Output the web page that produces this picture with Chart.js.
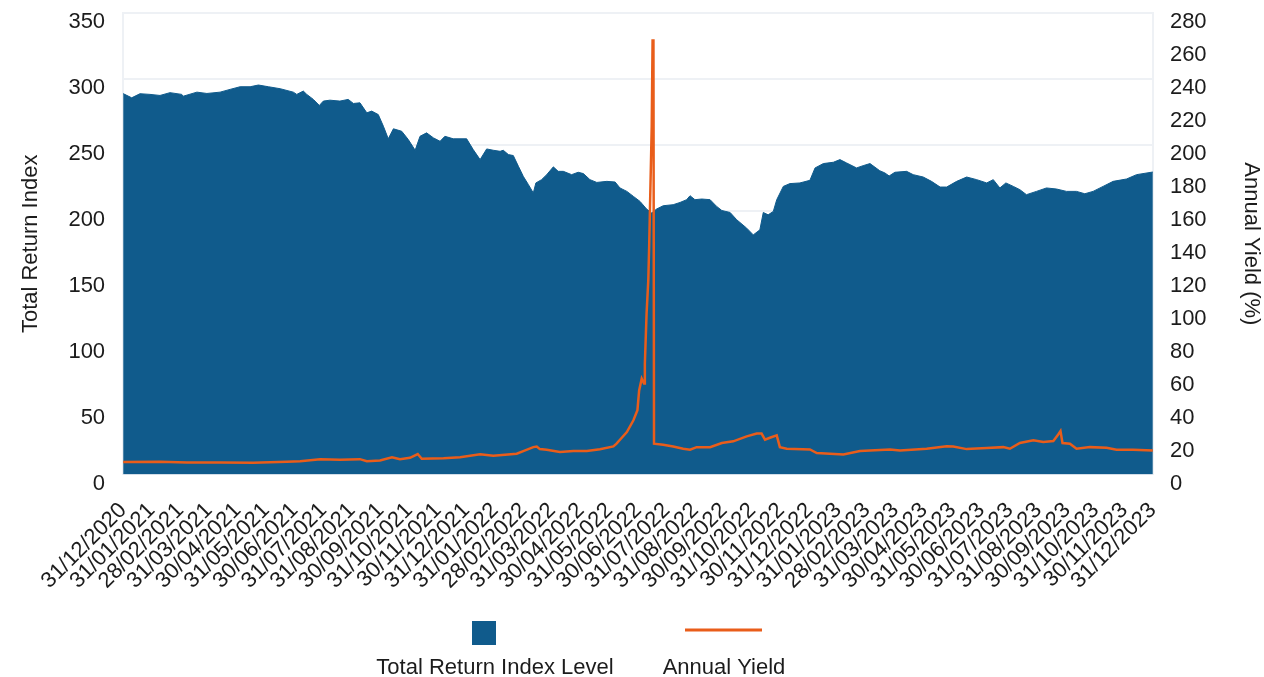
<!DOCTYPE html>
<html lang="en">

<head>
    <meta charset="UTF-8">
    <title>Total Return Index and Annual Yield</title>
    <script src="https://cdn.jsdelivr.net/npm/chart.js"></script>
    <style>
        body { margin: 0; background: #fff; }
        #wrap { width: 1264px; height: 677px; }
    </style>
</head>

<body>
    <div id="wrap">
        <canvas id="myChart"></canvas>
    </div>
</body>

<script>

    // month-end tick labels, one per month step on the x axis
    const monthLabels = [
        '31/12/2020', '31/01/2021', '28/02/2021', '31/03/2021', '30/04/2021', '31/05/2021',
        '30/06/2021', '31/07/2021', '31/08/2021', '30/09/2021', '31/10/2021', '30/11/2021',
        '31/12/2021', '31/01/2022', '28/02/2022', '31/03/2022', '30/04/2022', '31/05/2022',
        '30/06/2022', '31/07/2022', '31/08/2022', '30/09/2022', '31/10/2022', '30/11/2022',
        '31/12/2022', '31/01/2023', '28/02/2023', '31/03/2023', '30/04/2023', '31/05/2023',
        '30/06/2023', '31/07/2023', '31/08/2023', '30/09/2023', '31/10/2023', '30/11/2023',
        '31/12/2023'
    ]

    // positions in months after 31/12/2020
    const indexMonths = [
        0, 0.30, 0.59, 0.94, 1.29, 1.64, 2.05, 2.10, 2.58, 2.93, 3.39, 3.74, 4.09, 4.44, 4.73,
        5.08, 5.49, 5.95, 6.07, 6.30, 6.42, 6.65, 6.86, 7.00, 7.23, 7.58, 7.87, 8.05, 8.28, 8.52,
        8.69, 8.92, 9.10, 9.27, 9.45, 9.74, 9.97, 10.21, 10.38, 10.61, 10.85, 11.08, 11.25, 11.54,
        12.01, 12.24, 12.48, 12.71, 12.94, 13.18, 13.29, 13.47, 13.64, 13.82, 13.99, 14.17, 14.34,
        14.43, 14.63, 14.81, 15.04, 15.21, 15.39, 15.68, 15.91, 16.09, 16.32, 16.56, 16.91, 17.20,
        17.37, 17.61, 17.84, 18.07, 18.30, 18.48, 18.65, 18.88, 19.23, 19.47, 19.70, 19.82, 19.99,
        20.23, 20.52, 20.75, 20.93, 21.22, 21.45, 21.80, 22.03, 22.26, 22.38, 22.55, 22.73, 22.85,
        23.08, 23.31, 23.66, 24.01, 24.19, 24.48, 24.83, 25.06, 25.29, 25.64, 25.87, 26.11, 26.45,
        26.63, 26.78, 26.98, 27.39, 27.62, 27.97, 28.26, 28.56, 28.79, 29.14, 29.49, 29.84, 30.19,
        30.42, 30.65, 30.86, 31.12, 31.35, 31.58, 31.93, 32.28, 32.63, 32.98, 33.33, 33.62, 33.91,
        34.26, 34.61, 35.08, 35.43, 36
    ]
    const indexLevel = [
        289, 285.8, 288.9, 288.4, 287.6, 289.7, 288.4, 287, 290.1, 289.1, 290.1, 292.2, 294.2, 294.2, 295.5,
        294.2, 292.7, 290.1, 288.4, 290.9, 288.4, 284.6, 280, 283.3, 284, 283.3, 284.6, 281.5, 282, 274.4,
        275.7, 273.1, 264.2, 254.7, 262.3, 260.4, 254.1, 246, 256.6, 259.2, 255.4, 252.8, 256.6, 254.7,
        254.7, 246.5, 238.9, 247, 246, 245.2, 246, 242.7, 242, 233.8, 226.2, 219.9, 213.6,
        221.2, 223.7, 227.5, 233.4, 230, 230, 227.5, 229.3, 228.3, 223.7, 221.6, 222.4, 221.9,
        217.4, 214.8, 211, 207.2, 201.4, 198.4, 201.4, 203.9, 204.7, 206.4, 208.5, 211.5, 208.5,
        209, 208.5, 203.4, 200.3, 198.8, 193.3, 186.9, 181.8, 185.6, 198.8, 197, 199.6, 208.5,
        218.6, 220.7, 221.2, 223.2, 232.6, 235.9, 236.9, 238.9, 236.4, 232.6, 234.3, 235.9, 230.5,
        228.8, 226.5, 229.3, 230, 227.5, 225.7, 222.4, 218.1, 218.1, 222.4, 225.7, 223.7, 221.2,
        223.7, 217.4, 221.2, 218.6, 216.1, 212.3, 214.8, 217.4, 216.6, 214.8, 214.8, 213, 214.8,
        218.6, 222.4, 224.2, 227.5, 229.5
    ]

    const yieldMonths = [
        0, 1.29, 2.23, 3.39, 4.55, 5.72, 6.19, 6.89, 7.58, 8.28, 8.52, 8.98, 9.40, 9.68, 10.03,
        10.30, 10.44, 11.20, 11.78, 12.48, 12.94, 13.76, 13.99, 14.34, 14.46, 14.57, 14.81, 15.27,
        15.74, 16.21, 16.67, 17.14, 17.25, 17.37, 17.61, 17.84, 17.98, 18.04, 18.13, 18.21, 18.24,
        18.30, 18.36, 18.39, 18.48, 18.51, 18.54, 18.56, 18.88, 19.23, 19.58, 19.82, 20.05, 20.52,
        20.93, 21.33, 21.80, 22.15, 22.32, 22.44, 22.61, 22.85, 22.96, 23.20, 24.01, 24.25, 25.18,
        25.76, 26.81, 27.16, 28.09, 28.79, 29.02, 29.49, 30.19, 30.77, 31.00, 31.35, 31.82, 32.17,
        32.52, 32.69, 32.77, 32.84, 33.10, 33.33, 33.80, 34.38, 34.73, 35.31, 36
    ]
    const annualYield = [
        7.5, 7.7, 7.3, 7.3, 7.1, 7.7, 8.1, 9.3, 8.9, 9.3, 8.1, 8.5, 10.5, 9.3, 10.1,
        12.4, 9.5, 9.9, 10.5, 12.2, 11.4, 12.6, 14.2, 16.6, 17, 15.4, 15, 13.6,
        14.2, 14.3, 15.3, 17, 18.7, 21.1, 25.7, 32.9, 39, 51, 58.2, 55.2, 67.4,
        97.8, 118, 138.4, 211.4, 263.5, 263.5, 18.7, 18.1, 17, 15.6, 15, 16.6, 16.6,
        19.1, 20.1, 23.1, 24.8, 24.8, 21.1, 22.3, 23.7, 16.6, 15.6, 15.2, 13, 12.2,
        14.2, 15.2, 14.6, 15.6, 17.2, 17, 15.4, 16, 16.6, 15.6, 19.1, 20.7, 19.7,
        20.3, 24.3, 26.4, 19.1, 18.7, 15.6, 16.6, 16.2, 15, 15, 14.6
    ]

    const BLUE = '#105b8c'
    const ORANGE = '#e95d1a'
    const GRID = '#eef1f5'
    const TEXT = '#1c1c1c'
    const FONT = "'Liberation Sans', Arial, Helvetica, sans-serif"

    // legend drawn under the axis: symbol on top, label underneath
    const bottomLegend = {
        id: 'bottomLegend',
        afterDraw(chart) {
            const ctx = chart.ctx
            const mid = chart.width / 2
            const spots = [mid - 137, mid + 92]
            ctx.save()
            ctx.font = '22px ' + FONT
            ctx.textAlign = 'center'
            ctx.textBaseline = 'middle'
            chart.data.datasets.forEach((ds, i) => {
                const cx = spots[i]
                if (ds.fill) {
                    ctx.fillStyle = ds.backgroundColor
                    ctx.fillRect(cx - 23, 621, 24, 24)
                } else {
                    ctx.strokeStyle = ds.borderColor
                    ctx.lineWidth = 3
                    ctx.beginPath()
                    ctx.moveTo(cx - 39, 630)
                    ctx.lineTo(cx + 38, 630)
                    ctx.stroke()
                }
                ctx.fillStyle = TEXT
                ctx.fillText(ds.label, cx, 668)
            })
            ctx.restore()
        }
    }

    Chart.defaults.font.family = FONT
    Chart.defaults.font.size = 22
    Chart.defaults.color = TEXT

    const chart = new Chart(
        document.getElementById('myChart'),
        {
            type: 'line',
            data: {
                datasets: [{
                    label: 'Total Return Index Level',
                    data: indexMonths.map((m, i) => ({ x: m, y: indexLevel[i] })),
                    yAxisID: 'y',
                    fill: 'origin',
                    backgroundColor: BLUE,
                    borderColor: BLUE,
                    borderWidth: 1,
                    pointRadius: 0,
                    order: 2
                }, {
                    label: 'Annual Yield',
                    data: yieldMonths.map((m, i) => ({ x: m, y: annualYield[i] })),
                    yAxisID: 'y1',
                    fill: false,
                    borderColor: ORANGE,
                    borderWidth: 2.5,
                    pointRadius: 0,
                    order: 1
                }]
            },
            options: {
                responsive: true,
                maintainAspectRatio: false,
                animation: false,
                layout: {
                    padding: { top: 1, left: 1, right: 0, bottom: 68 }
                },
                plugins: {
                    legend: { display: false },
                    tooltip: { enabled: false }
                },
                scales: {
                    x: {
                        type: 'linear',
                        min: 0,
                        max: monthLabels.length - 1,
                        grid: { display: false },
                        border: { display: false },
                        ticks: {
                            stepSize: 1,
                            autoSkip: false,
                            maxTicksLimit: 100,
                            minRotation: 45,
                            maxRotation: 45,
                            padding: 15,
                            callback: (v) => monthLabels[v]
                        }
                    },
                    y: {
                        position: 'left',
                        min: 0,
                        max: 350,
                        // invisible tick marks give the gap between labels and plot
                        grid: { color: GRID, lineWidth: 2, tickLength: 18, tickColor: 'transparent' },
                        border: { color: GRID, width: 2 },
                        ticks: { stepSize: 50, padding: 0, labelOffset: 9 },
                        title: {
                            display: true,
                            text: 'Total Return Index',
                            padding: { top: 17, bottom: 24 }
                        }
                    },
                    y1: {
                        position: 'right',
                        min: 0,
                        max: 280,
                        grid: { display: false, tickLength: 17 },
                        border: { color: GRID, width: 2 },
                        ticks: { stepSize: 20, padding: 0, labelOffset: 9 },
                        title: {
                            display: true,
                            text: 'Annual Yield (%)',
                            padding: { top: 0, bottom: 31 }
                        }
                    }
                }
            },
            plugins: [bottomLegend]
        })

</script>

</html>
